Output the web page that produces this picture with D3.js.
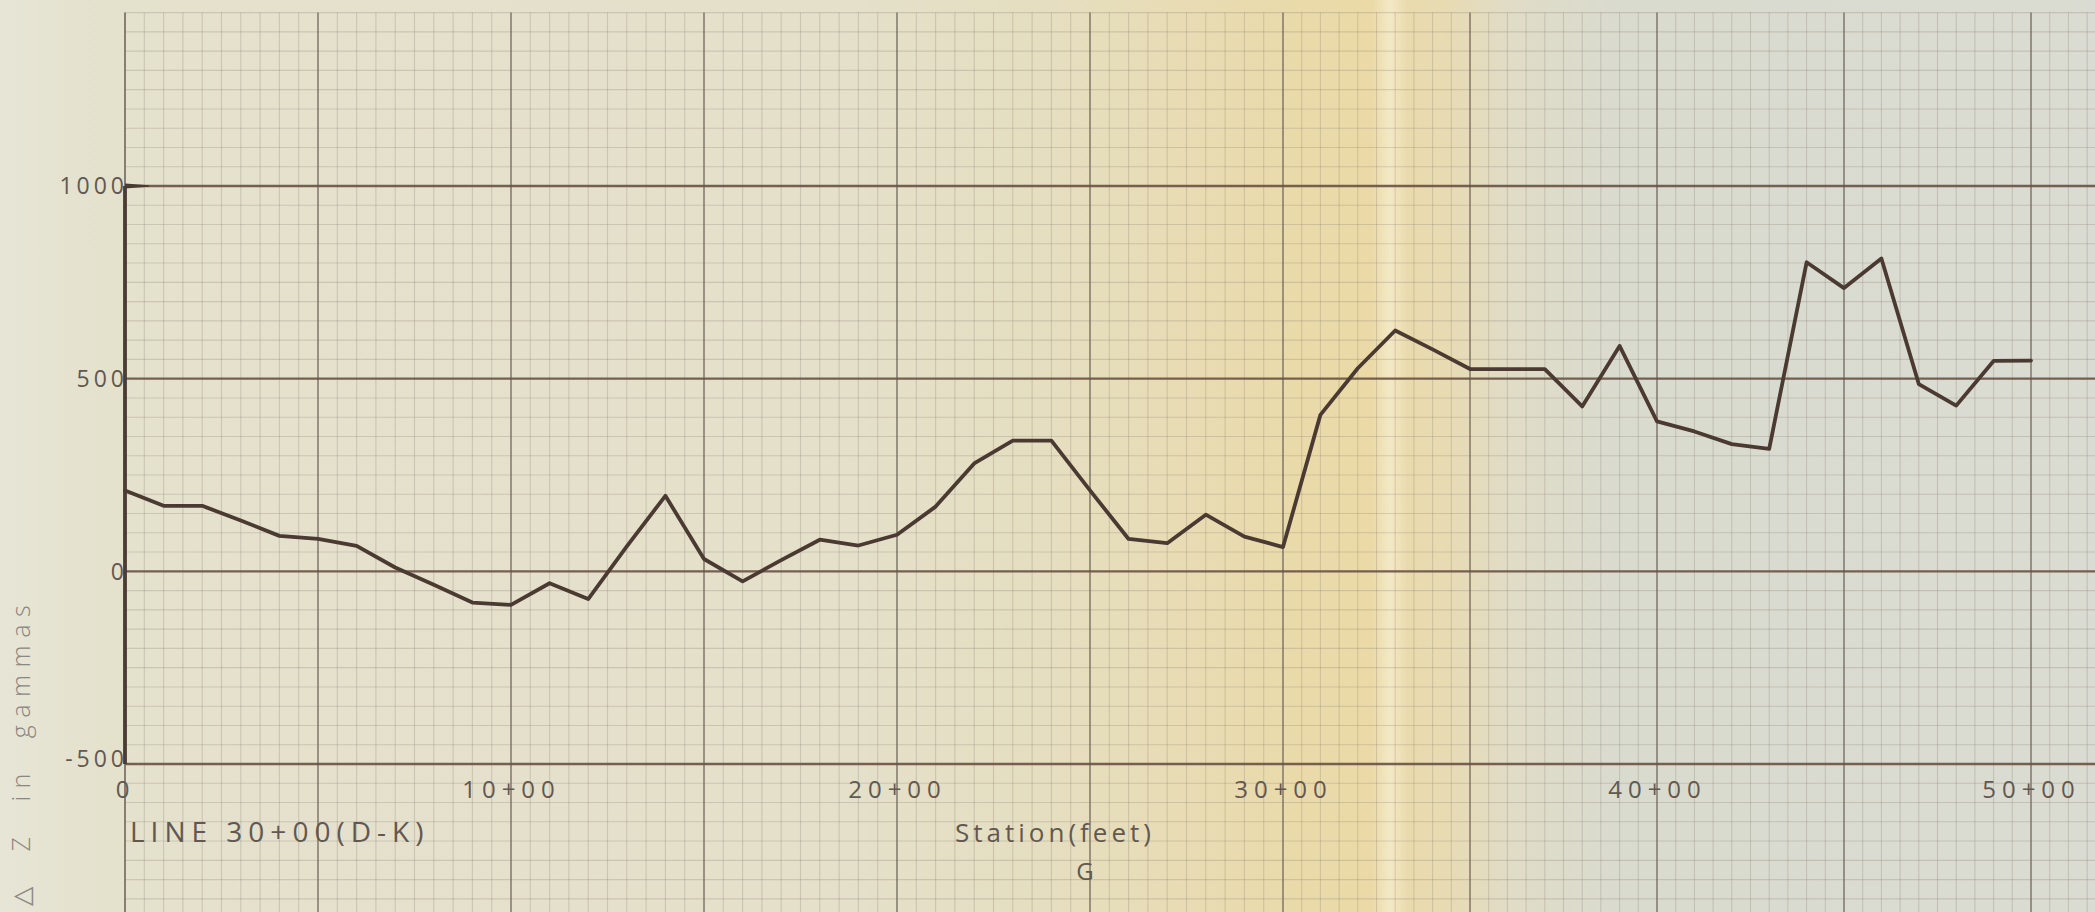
<!DOCTYPE html>
<html>
<head>
<meta charset="utf-8">
<script src="https://cdn.jsdelivr.net/npm/d3@7"></script>
<style>
  html, body { margin: 0; padding: 0; background: #e3e0cc; overflow: hidden; }
  svg { display: block; }
  text { font-family: "Open Sans", "DejaVu Sans", sans-serif; font-weight: 400; fill: #625850; }
</style>
</head>
<body>
<svg id="chart" width="2095" height="912"></svg>
<script>
// Magnetometer profile along LINE 30+00 (D-K): vertical-field anomaly in gammas,
// read every 100 ft (station numbers in hundreds of feet).
const stations = [0,1,2,3,4,5,6,7,8,9,10,11,12,13,14,15,16,17,18,19,20,21,22,23,24,25,
                  26,27,28,29,30,31,32,33,34,35,36,37,38,39,40,41,42,43,44,45,46,47,48,49,50];
const deltaZ = [210,170,170,132,92,84,66,10,-35,-81,-87,-31,-72,65,196,32,-26,29,82,67,
                95,168,280,339,339,210,84,73,147,90,63,406,527,625,576,525,525,525,428,585,
                389,363,330,318,802,735,812,486,430,546,547];

const yTicks = [1000, 500, 0, -500];
const yTickLabels = ["1000", "500", "0", "-500"];
const xTicks = [0, 10, 20, 30, 40, 50];
const xTickLabels = ["0", "10+00", "20+00", "30+00", "40+00", "50+00"];

const W = 2095, H = 912;
const svg = d3.select("#chart");

// Station scale (the sheet's squares get slightly narrower toward the right)
const x = d3.scaleLinear().domain([0, 30, 50]).range([125, 1283, 2031]);
const y = d3.scaleLinear().domain([-500, 1000]).range([764, 186]);

// ---- paper ----
const defs = svg.append("defs");
const paper = defs.append("linearGradient").attr("id", "paper")
  .attr("x1", 0).attr("x2", 1).attr("y1", 0).attr("y2", 0);
[[0.00, "#e7e5d6"], [0.05, "#e4e1cd"], [0.40, "#e4e0ca"], [0.50, "#e5dec0"],
 [0.56, "#e8dcb5"], [0.62, "#eadaaa"], [0.655, "#ebdaa8"], [0.69, "#e8dbb3"],
 [0.72, "#e0dcc6"], [0.77, "#dadbcf"], [1.00, "#dadbd2"]]
  .forEach(([o, c]) => paper.append("stop").attr("offset", o).attr("stop-color", c));
svg.append("rect").attr("width", W).attr("height", H).attr("fill", "url(#paper)");

const streak = defs.append("linearGradient").attr("id", "streak")
  .attr("x1", 0).attr("x2", 1).attr("y1", 0).attr("y2", 0);
[[0, "rgba(255,250,232,0)"], [0.5, "rgba(255,250,232,0.45)"], [1, "rgba(255,250,232,0)"]]
  .forEach(([o, c]) => streak.append("stop").attr("offset", o).attr("stop-color", c));
svg.append("rect").attr("x", 1372).attr("y", 0).attr("width", 36).attr("height", H)
  .attr("fill", "url(#streak)");

// ---- graph-paper grid ----
const gridTop = y(1450), gridBottom = H, gridLeft = x(0), gridRight = W;
const xEnd = x.invert(W);
const minorX = d3.range(0.5, xEnd, 0.5).filter(v => v % 5 !== 0);
const majorX = d3.range(5, xEnd, 5);
const minorY = d3.range(-900, 1451, 50).filter(v => v % 500 !== 0);
const majorY = yTicks;

const grid = svg.append("g");
const minorInk = "rgba(100,90,78,0.2)";
grid.selectAll(".mx").data(minorX).join("line")
  .attr("x1", d => x(d)).attr("x2", d => x(d)).attr("y1", gridTop).attr("y2", gridBottom)
  .attr("stroke", minorInk).attr("stroke-width", 1.1);
grid.selectAll(".my").data(minorY).join("line")
  .attr("y1", d => y(d)).attr("y2", d => y(d)).attr("x1", gridLeft).attr("x2", gridRight)
  .attr("stroke", minorInk).attr("stroke-width", 1.1);
grid.selectAll(".Mx").data(majorX).join("line")
  .attr("x1", d => x(d)).attr("x2", d => x(d)).attr("y1", gridTop).attr("y2", gridBottom)
  .attr("stroke", "#6f665c").attr("stroke-width", 1.6).attr("opacity", 0.8);
grid.selectAll(".My").data(majorY).join("line")
  .attr("y1", d => y(d)).attr("y2", d => y(d)).attr("x1", gridLeft).attr("x2", gridRight)
  .attr("stroke", "#6a5244").attr("stroke-width", 2.4).attr("opacity", 0.9);

// ---- vertical axis ----
grid.append("line").attr("x1", x(0)).attr("x2", x(0)).attr("y1", gridTop).attr("y2", gridBottom)
  .attr("stroke", "#6f665c").attr("stroke-width", 1.6);
svg.append("line").attr("x1", x(0)).attr("x2", x(0)).attr("y1", y(1000)).attr("y2", y(-500))
  .attr("stroke", "#4a3c33").attr("stroke-width", 3.8);
svg.append("path")
  .attr("d", `M${x(0)},${y(1000) - 2.5}L${x(0) + 24},${y(1000) - 0.8}L${x(0) + 24},${y(1000) + 0.8}L${x(0)},${y(1000) + 2.5}Z`)
  .attr("fill", "#4a3c33");

// ---- axis labels ----
const yAxis = svg.append("g").attr("transform", `translate(${x(0) + 3},0)`)
  .call(d3.axisLeft(y).tickValues(yTicks).tickFormat((d, i) => yTickLabels[i]).tickSize(0).tickPadding(0));
yAxis.select(".domain").remove();
yAxis.selectAll("text").attr("font-size", 23).attr("letter-spacing", 4)
  .attr("font-family", null).attr("fill", null)
  .attr("dy", d => d === -500 ? "0.12em" : "0.34em");

const xAxis = svg.append("g").attr("transform", `translate(0,${y(-500)})`)
  .call(d3.axisBottom(x).tickValues(xTicks).tickFormat((d, i) => xTickLabels[i]).tickSize(0).tickPadding(17));
xAxis.select(".domain").remove();
xAxis.selectAll("text").attr("font-size", 24).attr("letter-spacing", 6)
  .attr("font-family", null).attr("fill", null);

svg.append("text").attr("x", 130).attr("y", 842).attr("font-size", 28).attr("letter-spacing", 6)
  .text("LINE 30+00(D-K)");
svg.append("text").attr("x", 1055).attr("y", 842).attr("text-anchor", "middle")
  .attr("font-size", 26).attr("letter-spacing", 4).text("Station(feet)");
svg.append("text").attr("x", 1085).attr("y", 880).attr("text-anchor", "middle")
  .attr("font-size", 24).text("G");
svg.append("text").attr("transform", "translate(30,906) rotate(-90)")
  .attr("font-size", 25).attr("letter-spacing", 7.5).attr("word-spacing", 14)
  .style("fill", "#8b8781").style("font-weight", 300).text("\u25B3 Z in gammas");

// ---- profile ----
const pts = stations.map((s, i) => ({ s, v: deltaZ[i] }));
svg.append("path").datum(pts)
  .attr("fill", "none").attr("stroke", "#4a3a32").attr("stroke-width", 3.8)
  .attr("stroke-linejoin", "round").attr("stroke-linecap", "round")
  .attr("d", d3.line().x(d => x(d.s)).y(d => y(d.v)));
</script>
</body>
</html>
